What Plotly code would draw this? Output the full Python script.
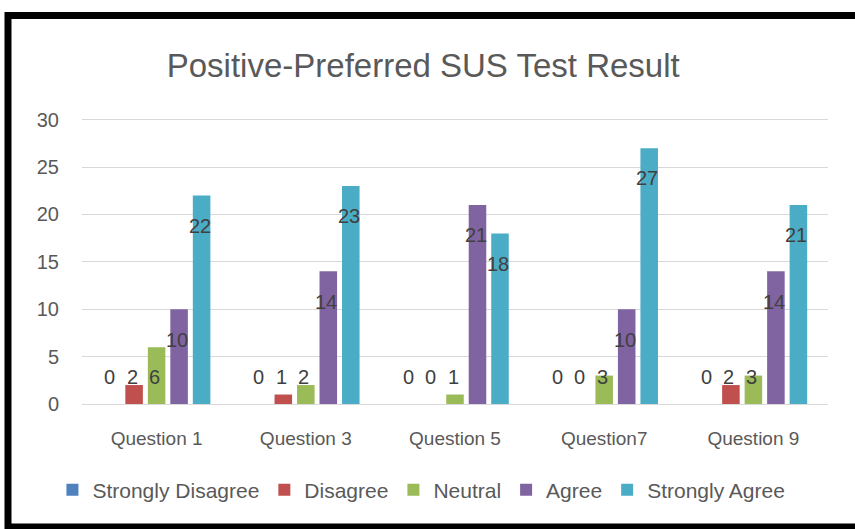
import plotly.graph_objects as go

# %% Data
questions = ["Question 1", "Question 3", "Question 5", "Question7", "Question 9"]
series_names = ["Strongly Disagree", "Disagree", "Neutral", "Agree", "Strongly Agree"]
strongly_disagree = [0, 0, 0, 0, 0]
disagree = [2, 1, 0, 0, 2]
neutral = [6, 2, 1, 3, 3]
agree = [10, 14, 21, 10, 14]
strongly_agree = [22, 23, 18, 27, 21]
colors = ["#4F81BD", "#C0504D", "#9BBB59", "#8064A2", "#4BACC6"]

series_values = [strongly_disagree, disagree, neutral, agree, strongly_agree]
font_name = "Liberation Sans, Arial, sans-serif"

fig = go.Figure()
for name, vals, col in zip(series_names, series_values, colors):
    fig.add_trace(go.Bar(name=name, x=questions, y=vals, marker_color=col,
                         marker_line_width=0))

# data labels sit a little below the top of each bar (Excel-style), with a floor
slot = 22.5  # pixel spacing between bars in a group
annotations = []
for i, vals in enumerate(series_values):
    for q, v in zip(questions, vals):
        annotations.append(dict(
            x=q, y=max(v - 3.2, 2.8), text=str(v), showarrow=False,
            xshift=(i - 2) * slot - 2, yanchor="middle",
            font=dict(family=font_name, size=20, color="#404040"),
        ))

fig.update_layout(
    width=855, height=529,
    margin=dict(l=82, r=27, t=115, b=125),
    paper_bgcolor="white", plot_bgcolor="white",
    barmode="group", bargap=0.246, bargroupgap=0.22,
    title=dict(text="Positive-Preferred SUS Test Result", x=0.495, xanchor="center",
               y=0.877, yanchor="middle",
               font=dict(family=font_name, size=33, color="#595959")),
    font=dict(family=font_name, color="#595959"),
    annotations=annotations,
    legend=dict(orientation="h", x=0.455, xanchor="center", y=-0.2976, yanchor="middle",
                font=dict(size=21, color="#595959"), itemwidth=30, tracegroupgap=0),
    xaxis=dict(showline=True, linecolor="#d9d9d9", linewidth=1, ticks="",
               tickfont=dict(size=19, color="#595959"), ticklabelstandoff=17),
    yaxis=dict(range=[0, 30.5], tickvals=[0, 5, 10, 15, 20, 25, 30],
               gridcolor="#d9d9d9", zeroline=False,
               ticks="", tickfont=dict(size=20, color="#595959"), ticklabelstandoff=22),
)

# thick black frame around the chart
fig.add_shape(type="rect", xref="paper", yref="paper",
              x0=-0.0992, x1=1.0456, y0=-0.4256, y1=1.344,
              line=dict(color="black", width=7), fillcolor="rgba(0,0,0,0)")

fig.write_html("out.html", config={"displayModeBar": False},
               post_script="document.body.style.margin='0px';")
